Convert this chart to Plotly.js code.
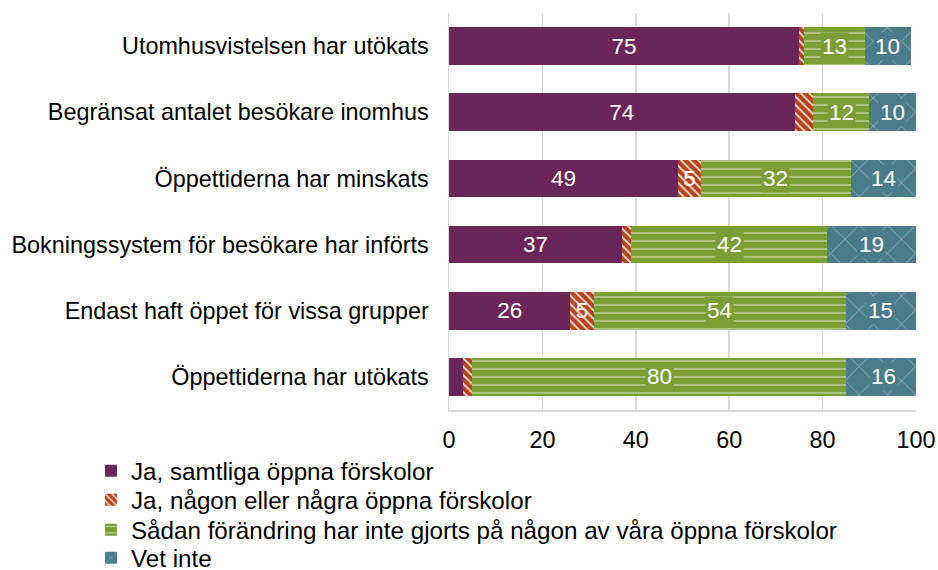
<!DOCTYPE html>
<html>
<head>
<meta charset="utf-8">
<script src="https://cdn.plot.ly/plotly-3.0.1.min.js"></script>
<style>
  html, body { margin: 0; padding: 0; background: #fff; }
  #chart { width: 938px; height: 570px; }
</style>
</head>
<body>
<div id="chart"></div>
<script>
const categories = [
  'Utomhusvistelsen har utökats',
  'Begränsat antalet besökare inomhus',
  'Öppettiderna har minskats',
  'Bokningssystem för besökare har införts',
  'Endast haft öppet för vissa grupper',
  'Öppettiderna har utökats'
];
const seriesNames = [
  'Ja, samtliga öppna förskolor',
  'Ja, någon eller några öppna förskolor',
  'Sådan förändring har inte gjorts på någon av våra öppna förskolor',
  'Vet inte'
];
const allaVals   = [75, 74, 49, 37, 26, 3];
const nagraVals  = [1, 4, 5, 2, 5, 2];
const ingenVals  = [13, 12, 32, 42, 54, 80];
const vetInteVals = [10, 10, 14, 19, 15, 16];

const FONT = 'Liberation Sans, Arial, sans-serif';
const colors = ['#6A2659', '#B5451B', '#7A9F35', '#4A7C89'];
const patterns = [
  null,
  { shape: '\\', fgcolor: 'rgba(255,255,255,0.85)', bgcolor: colors[1], size: 6, solidity: 0.3, fillmode: 'replace' },
  { shape: '-', fgcolor: 'rgba(255,255,255,0.5)', bgcolor: colors[2], size: 8, solidity: 0.18, fillmode: 'replace' },
  { shape: 'x', fgcolor: 'rgba(255,255,255,0.5)', bgcolor: colors[3], size: 20, solidity: 0.07, fillmode: 'replace' }
];
const allSeries = [allaVals, nagraVals, ingenVals, vetInteVals];
const legendIds = ['legend', 'legend2', 'legend3', 'legend4'];
const legendRowY = [471, 500, 530, 558];   // pixel centre of each legend row

const traces = allSeries.map((vals, i) => {
  const t = {
    type: 'bar',
    orientation: 'h',
    name: seriesNames[i],
    legend: legendIds[i],
    x: vals,
    y: categories,
    marker: { color: colors[i], line: { width: 0 } },
    hoverinfo: 'x+name'
  };
  if (patterns[i]) t.marker.pattern = patterns[i];
  if (i < 2) {
    t.text = vals.map(v => v >= 5 ? String(v) : '');
    t.textposition = 'inside';
    t.insidetextanchor = 'middle';
    t.constraintext = 'none';
    t.textangle = 0;
    t.textfont = { color: '#ffffff', size: 22.5, family: FONT };
  } else {
    t.textposition = 'none';
  }
  return t;
});

// labels with solid background on the patterned segments
const annotations = [];
categories.forEach((cat, j) => {
  let start = allaVals[j] + nagraVals[j];
  [ingenVals, vetInteVals].forEach((vals, k) => {
    const v = vals[j];
    annotations.push({
      x: start + v / 2, y: cat, xref: 'x', yref: 'y',
      text: String(v), showarrow: false,
      bgcolor: colors[2 + k], borderpad: 1,
      font: { color: '#ffffff', size: 22.5, family: FONT }
    });
    start += v;
  });
});

const layout = {
  width: 938, height: 570,
  barmode: 'stack',
  bargap: 0.43,
  margin: { l: 449, r: 22, t: 13, b: 160, autoexpand: false },
  paper_bgcolor: '#ffffff',
  plot_bgcolor: '#ffffff',
  font: { family: FONT, size: 23.4, color: '#000000' },
  xaxis: {
    range: [0, 100], dtick: 20, tick0: 0,
    showgrid: true, gridcolor: '#D9D9D9', gridwidth: 1.5,
    zeroline: false, showline: true, linecolor: '#D9D9D9', linewidth: 1.5,
    ticks: '', ticklabelstandoff: 8, fixedrange: true
  },
  yaxis: {
    autorange: 'reversed', showgrid: false, zeroline: false,
    showline: true, linecolor: '#D9D9D9', linewidth: 1.5,
    ticks: '', ticklabelstandoff: 14, fixedrange: true
  },
  showlegend: true,
  annotations: annotations
};

legendIds.forEach((id, i) => {
  layout[id] = {
    orientation: 'v',
    xref: 'container', yref: 'container',
    x: 0.097, y: 1 - legendRowY[i] / 570, xanchor: 'left', yanchor: 'middle',
    itemwidth: 30,
    bgcolor: 'rgba(0,0,0,0)',
    font: { size: 24.2 }
  };
});

Plotly.newPlot('chart', traces, layout, { displayModeBar: false, staticPlot: true });
</script>
</body>
</html>
